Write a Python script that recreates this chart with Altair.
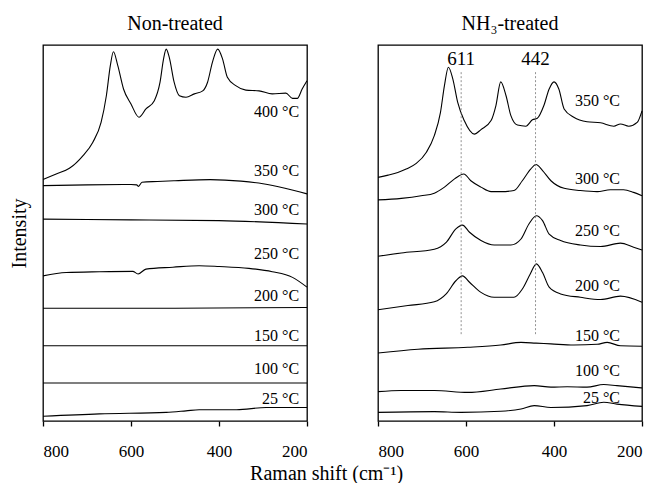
import altair as alt
import pandas as pd

FONT = "Liberation Serif"

# ---------------- Non-treated panel (Raman shift, stacked intensity) ----------------
NT400_W = [800, 770, 740, 709, 687, 668, 656, 647, 640, 630, 617, 600, 582, 566, 547, 534, 526, 520, 513,
           502, 490, 475, 456, 437, 426, 415, 403, 392, 381, 362, 339, 309, 279, 248, 233, 222, 211, 200]
NT400_I = [64.2, 65.7, 67.2, 70.6, 74.1, 79.4, 86.5, 94.5, 98.2, 94.5, 88.3, 84.3, 80.8, 83.0, 85.2, 90.1,
           96.3, 98.9, 96.7, 90.1, 86.5, 86.1, 87.0, 87.8, 90.1, 95.4, 98.9, 96.3, 91.4, 89.2, 88.0, 87.8,
           87.0, 87.2, 85.8, 85.8, 88.3, 90.5]
NT350_W = [800, 700, 600, 587, 583, 575, 540, 500, 420, 350, 300, 250, 200]
NT350_I = [62.6, 62.8, 62.9, 62.8, 62.4, 63.5, 63.7, 63.9, 64.2, 63.8, 63.1, 61.9, 60.4]
NT300_W = [800, 600, 400, 200]
NT300_I = [53.7, 53.5, 53.3, 52.4]
NT250_W = [800, 747, 672, 596, 584, 566, 505, 445, 400, 332, 279, 233, 200]
NT250_I = [38.6, 39.5, 39.7, 39.8, 39.1, 40.4, 40.9, 41.3, 41.1, 40.6, 39.7, 38.2, 35.6]
NT200_W = [800, 500, 200]
NT200_I = [30.0, 30.0, 30.2]
NT150_W = [800, 500, 200]
NT150_I = [20.0, 20.0, 20.0]
NT100_W = [800, 500, 200]
NT100_I = [10.1, 10.1, 10.1]
NT25_W = [800, 672, 520, 475, 445, 360, 293, 200]
NT25_I = [1.25, 1.9, 2.3, 2.7, 3.0, 3.0, 3.6, 3.6]

NT_LABELS = ["400 °C", "350 °C", "300 °C", "250 °C", "200 °C", "150 °C", "100 °C", "25 °C"]
NT_LABEL_Y = [82.2, 66.5, 56.1, 44.4, 33.2, 22.6, 13.8, 5.9]

# ---------------- NH3-treated panel ----------------
NH350_W = [800, 777, 755, 736, 713, 690, 672, 658, 649, 640, 630, 619, 604, 581, 566, 543, 532, 521, 509,
           498, 483, 464, 449, 438, 423, 411, 400, 389, 377, 355, 325, 294, 264, 249, 230, 211, 200]
NH350_I = [64.8, 65.4, 66.1, 67.0, 68.5, 71.5, 75.9, 82.1, 89.2, 94.1, 91.0, 84.8, 79.9, 76.3, 77.5, 79.9,
           83.9, 90.2, 86.5, 81.2, 78.7, 78.4, 80.1, 80.5, 83.9, 88.3, 90.2, 88.3, 83.0, 80.8, 79.6, 79.3,
           78.4, 79.0, 78.4, 79.4, 82.5]
NH300_W = [800, 747, 702, 672, 649, 626, 605, 589, 566, 543, 521, 491, 472, 453, 441, 426, 407, 377, 340,
           302, 272, 242, 219, 200]
NH300_I = [58.8, 59.2, 59.9, 60.6, 62.2, 64.4, 65.7, 63.9, 62.2, 61.0, 61.0, 61.3, 63.9, 67.0, 68.2, 66.6,
           63.9, 61.9, 61.3, 61.0, 61.5, 61.5, 60.8, 59.9]
NH250_W = [800, 747, 672, 645, 623, 608, 592, 566, 536, 498, 475, 457, 440, 426, 411, 385, 340, 294, 249,
           219, 200]
NH250_I = [43.8, 44.7, 45.7, 47.5, 51.1, 52.1, 50.2, 48.0, 46.8, 46.8, 48.4, 52.4, 54.6, 53.3, 49.7, 48.0,
           46.8, 46.4, 47.3, 46.2, 45.5]
NH200_W = [800, 732, 672, 645, 623, 608, 592, 566, 536, 491, 472, 454, 440, 426, 411, 385, 340, 294, 249, 200]
NH200_I = [29.6, 30.7, 31.7, 33.8, 37.3, 38.6, 36.9, 34.2, 32.9, 32.9, 35.1, 39.1, 41.8, 39.5, 35.6, 33.8,
           32.9, 32.3, 33.2, 31.6]
NH150_W = [800, 709, 596, 521, 475, 441, 407, 355, 302, 279, 249, 200]
NH150_I = [18.1, 19.1, 19.6, 20.2, 20.9, 20.7, 20.5, 20.2, 20.4, 20.9, 20.0, 19.9]
NH100_W = [800, 747, 672, 596, 521, 445, 407, 370, 325, 287, 257, 200]
NH100_I = [7.8, 8.1, 8.1, 7.6, 8.5, 9.4, 9.0, 9.1, 9.0, 9.7, 9.4, 8.8]
NH25_W = [800, 672, 611, 521, 475, 445, 407, 325, 287, 257, 200]
NH25_I = [2.3, 2.5, 2.3, 2.6, 3.2, 4.1, 3.6, 4.1, 5.0, 4.5, 3.9]

NH_LABELS = ["350 °C", "300 °C", "250 °C", "200 °C", "150 °C", "100 °C", "25 °C"]
NH_LABEL_Y = [85.2, 64.4, 50.6, 36.0, 22.7, 13.4, 6.0]

PEAK_POS = [611, 442]
PEAK_TEXT = ["611", "442"]
PEAK_LINE_Y = [23.1, 92.8]
PEAK_TEXT_Y = 96.3


def long(series):
    rows = []
    for name, ws, vs in series:
        for w, v in zip(ws, vs):
            rows.append({"s": name, "w": w, "y": v})
    return pd.DataFrame(rows)


nt_df = long([("400", NT400_W, NT400_I), ("350", NT350_W, NT350_I), ("300", NT300_W, NT300_I),
              ("250", NT250_W, NT250_I), ("200", NT200_W, NT200_I), ("150", NT150_W, NT150_I),
              ("100", NT100_W, NT100_I), ("25", NT25_W, NT25_I)])
nh_df = long([("350", NH350_W, NH350_I), ("300", NH300_W, NH300_I), ("250", NH250_W, NH250_I),
              ("200", NH200_W, NH200_I), ("150", NH150_W, NH150_I), ("100", NH100_W, NH100_I),
              ("25", NH25_W, NH25_I)])

nt_lab = pd.DataFrame({"t": NT_LABELS, "y": NT_LABEL_Y, "w": [218] * len(NT_LABELS)})
nh_lab = pd.DataFrame({"t": NH_LABELS, "y": NH_LABEL_Y, "w": [250] * len(NH_LABELS)})
peaks = pd.DataFrame({"w": PEAK_POS, "t": PEAK_TEXT, "y": [PEAK_LINE_Y[0]] * 2,
                      "y2": [PEAK_LINE_Y[1]] * 2, "ty": [PEAK_TEXT_Y] * 2})

xscale = alt.Scale(domain=[200, 800], reverse=True, nice=False, zero=False)
yscale = alt.Scale(domain=[0, 100], nice=False, zero=False)
xaxis = alt.Axis(values=[200, 400, 600, 800], title=None, grid=False, domain=False,
                 ticks=True, tickColor="#000000", tickSize=5, tickWidth=1.3, tickOpacity=1,
                 labelFont=FONT, labelFontSize=17, labelColor="black", labelPadding=17)

W, H = 264, 376


def panel(df, lab, ytitle):
    if ytitle:
        yax = alt.Axis(title="Intensity", labels=False, ticks=False, domain=False, grid=False,
                       titleFont=FONT, titleFontSize=20, titleFontWeight="normal",
                       titleColor="black", titlePadding=14)
    else:
        yax = None
    lines = alt.Chart(df).mark_line(color="black", strokeWidth=1.1, interpolate="monotone").encode(
        x=alt.X("w:Q", scale=xscale, axis=xaxis),
        y=alt.Y("y:Q", scale=yscale, axis=yax),
        detail="s:N",
    )
    texts = alt.Chart(lab).mark_text(font=FONT, fontSize=16, align="right", baseline="middle",
                                     color="black").encode(
        x=alt.X("w:Q", scale=xscale), y=alt.Y("y:Q", scale=yscale), text="t:N")
    return lines, texts


nt_lines, nt_texts = panel(nt_df, nt_lab, True)
nh_lines, nh_texts = panel(nh_df, nh_lab, False)

rules = alt.Chart(peaks).mark_rule(color="#777777", strokeWidth=0.8, strokeDash=[2, 2]).encode(
    x=alt.X("w:Q", scale=xscale), y=alt.Y("y:Q", scale=yscale), y2="y2:Q")
ptext = alt.Chart(peaks).mark_text(font=FONT, fontSize=19, align="center", baseline="middle",
                                   color="black").encode(
    x=alt.X("w:Q", scale=xscale), y=alt.Y("ty:Q", scale=yscale), text="t:N")

ttl = dict(font=FONT, fontSize=20, fontWeight="normal", color="black", offset=11)
frame = alt.ViewBackground(stroke="#000000", strokeWidth=1.3, strokeOpacity=1)

left = alt.layer(nt_lines, nt_texts).properties(
    width=W, height=H, title=alt.TitleParams("Non-treated", **ttl), view=frame)
right = alt.layer(nh_lines, rules, ptext, nh_texts).properties(
    width=W, height=H, title=alt.TitleParams("NH₃-treated", **ttl), view=frame)

chart = alt.hconcat(left, right, spacing=65).properties(
    title=alt.TitleParams("Raman shift (cm⁻¹)", orient="bottom", anchor="middle", font=FONT,
                          fontSize=20, fontWeight="normal", color="black", offset=4),
    padding={"left": 0, "top": 5, "right": 0, "bottom": 0},
    background="white",
).configure_view(stroke="#000000", strokeWidth=1.3, strokeOpacity=1)

chart.save("out.html", embed_options={"renderer": "svg", "actions": False})
